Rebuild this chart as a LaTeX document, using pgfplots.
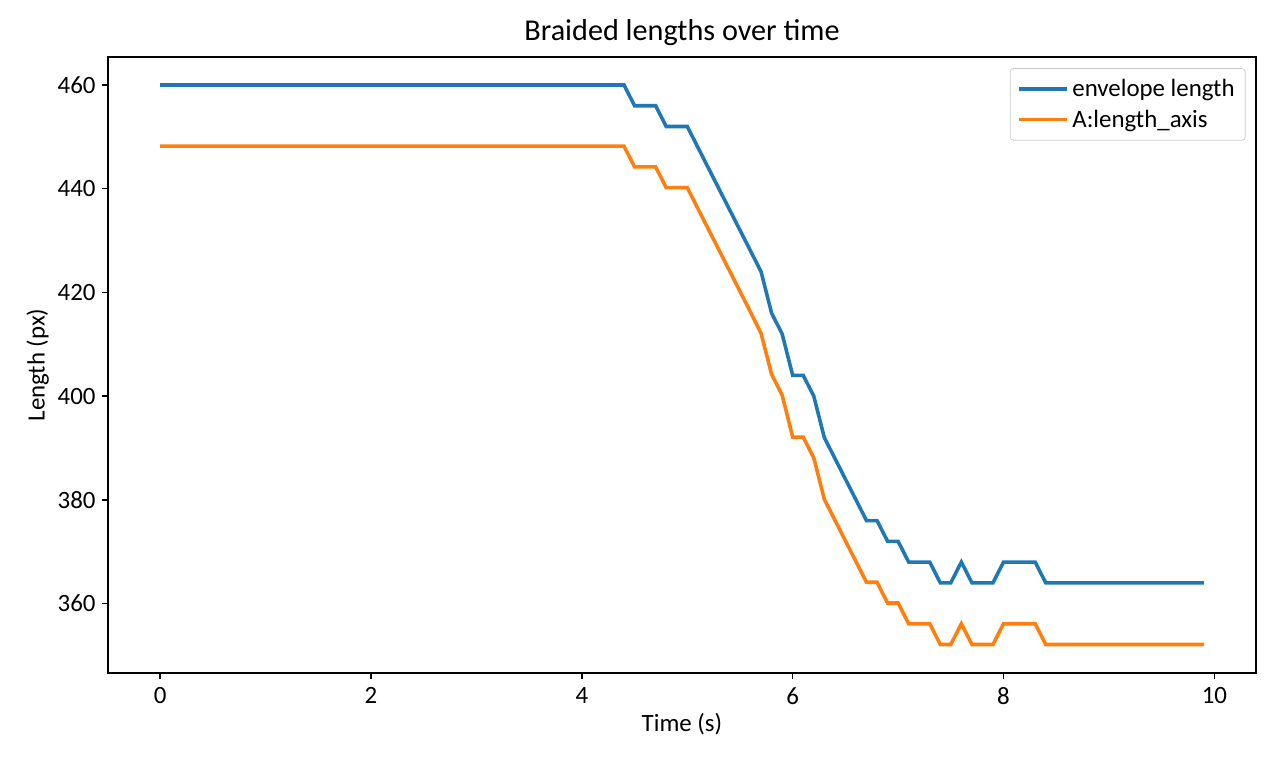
\documentclass[border=0pt]{standalone}
\usepackage{fontspec}
\setmainfont{Carlito}
\usepackage{pgfplots}
\pgfplotsset{compat=1.18}
\definecolor{tabblue}{HTML}{1F77B4}
\definecolor{taborange}{HTML}{FF7F0E}
\begin{document}
\begin{tikzpicture}
\useasboundingbox (-60.75pt,-53.44pt) rectangle (659.25pt,378.56pt);
\begin{axis}[
  at={(0,0)}, anchor=south west,
  scale only axis, width=645.75pt, height=346.5pt,
  xmin=-0.495, xmax=10.395, ymin=346.6, ymax=465.4,
  xtick={0,2,4,6,8,10}, ytick={360,380,400,420,440,460},
  tick align=outside, tick pos=left,
  major tick length=3.5pt,
  every tick/.style={black, line width=0.8pt},
  axis line style={line width=0.8pt},
  /pgf/number format/assume math mode=true,
  tick label style={font=\fontsize{14}{16}\selectfont},
  xticklabel style={yshift=-1pt},
  label style={font=\fontsize{14}{16}\selectfont},
  xlabel style={yshift=2pt},
  ylabel style={yshift=-2pt},
  xlabel={Time (s)}, ylabel={Length (px)},
  title={Braided lengths over time},
  title style={font=\fontsize{17}{20}\selectfont, yshift=-3pt},
  legend style={at={(0.991,0.982)}, anchor=north east, draw=black!20, rounded corners=2pt,
    font=\fontsize{14}{16}\selectfont, row sep=2pt, inner sep=4pt},
  legend cell align=left,
  legend image code/.code={\draw[#1] (0pt,0pt) -- (27pt,0pt);},
]
\addplot[tabblue, line width=2pt] coordinates {
(0.0,460) (4.4,460) (4.5,456) (4.7,456) (4.8,452) (5.0,452)
(5.1,448) (5.2,444) (5.3,440) (5.4,436) (5.5,432) (5.6,428) (5.7,424)
(5.8,416) (5.9,412) (6.0,404) (6.1,404) (6.2,400) (6.3,392)
(6.4,388) (6.5,384) (6.6,380) (6.7,376) (6.8,376) (6.9,372) (7.0,372)
(7.1,368) (7.2,368) (7.3,368) (7.4,364) (7.5,364) (7.6,368) (7.7,364) (7.8,364) (7.9,364)
(8.0,368) (8.1,368) (8.2,368) (8.3,368) (8.4,364) (9.9,364)
};
\addlegendentry{envelope length}
\addplot[taborange, line width=2pt] coordinates {
(0.0,448.2) (4.4,448.2) (4.5,444.2) (4.7,444.2) (4.8,440.2) (5.0,440.2)
(5.1,436.2) (5.2,432.2) (5.3,428.2) (5.4,424.2) (5.5,420.2) (5.6,416.2) (5.7,412.1)
(5.8,404.2) (5.9,400.2) (6.0,392.1) (6.1,392.1) (6.2,388.1) (6.3,380.1)
(6.4,376.1) (6.5,372.1) (6.6,368.1) (6.7,364.1) (6.8,364.1) (6.9,360.1) (7.0,360.1)
(7.1,356.1) (7.2,356.1) (7.3,356.1) (7.4,352.1) (7.5,352.1) (7.6,356.1) (7.7,352.1) (7.8,352.1) (7.9,352.1)
(8.0,356.1) (8.1,356.1) (8.2,356.1) (8.3,356.1) (8.4,352.1) (9.9,352.1)
};
\addlegendentry{A:length\_axis}
\end{axis}
\end{tikzpicture}
\end{document}
